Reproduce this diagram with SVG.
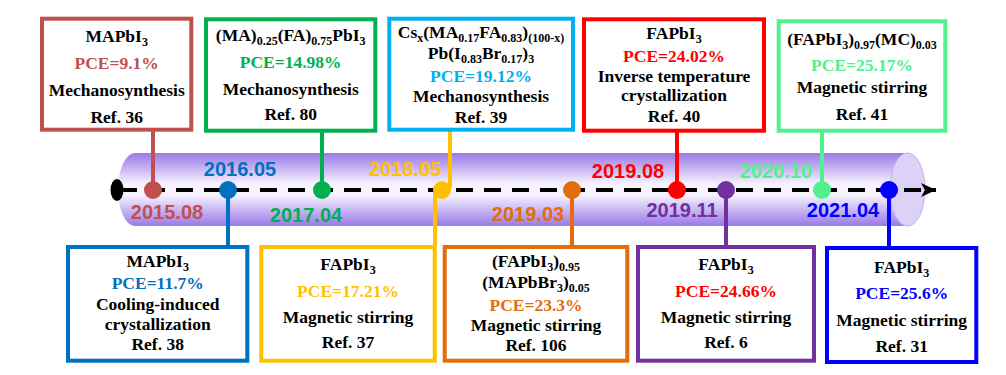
<svg xmlns="http://www.w3.org/2000/svg" width="1006" height="375" viewBox="0 0 1006 375">
<defs>
<linearGradient id="tubeGrad" x1="0" y1="0" x2="0" y2="1">
<stop offset="0" stop-color="#9b7ae9"/>
<stop offset="0.15" stop-color="#b9a2f0"/>
<stop offset="0.42" stop-color="#f6f2fe"/>
<stop offset="0.58" stop-color="#f6f2fe"/>
<stop offset="0.85" stop-color="#b9a2f0"/>
<stop offset="1" stop-color="#9b7ae9"/>
</linearGradient>
<marker id="arrow" markerUnits="userSpaceOnUse" markerWidth="20" markerHeight="20" refX="15" refY="7" orient="auto" viewBox="0 0 20 20">
<path d="M15,7 L0,0 L4,7 L0,14 Z" fill="#000"/>
</marker>
</defs>
<style>
.box{fill:#fff;stroke-width:4}
.t{font-family:"Liberation Serif","Times New Roman",serif;font-weight:bold;font-size:17.5px;text-anchor:middle}
.s{font-size:12px}
.date{font-family:"Liberation Sans",Arial,sans-serif;font-weight:bold;font-size:20px;text-anchor:middle}
.conn{stroke-width:4;fill:none}
</style>
<rect width="1006" height="375" fill="#fff"/>

<g id="timeline">
<path d="M135,153 H907.5 A17.5 36.5 0 0 1 907.5,226 H135 A17 36.5 0 0 1 135,153 Z" fill="url(#tubeGrad)"/>
<ellipse cx="907.5" cy="189.5" rx="17.5" ry="36.5" fill="#dcd2f7" stroke="#c4b3f0" stroke-width="1"/>
</g>

<g id="connectors">
<line class="conn" x1="153" y1="131" x2="153" y2="190" stroke="#c0504d"/>
<line class="conn" x1="228" y1="190" x2="228" y2="246" stroke="#0070c0"/>
<line class="conn" x1="322" y1="131" x2="322" y2="190" stroke="#00b050"/>
<line class="conn" x1="450" y1="131" x2="450" y2="188" stroke="#ffc000"/>
<line class="conn" x1="435" y1="190" x2="435" y2="246" stroke="#ffc000"/>
<line class="conn" x1="572" y1="190" x2="572" y2="246" stroke="#e46c0a"/>
<line class="conn" x1="677" y1="131" x2="677" y2="190" stroke="#ff0000"/>
<line class="conn" x1="726" y1="190" x2="726" y2="246" stroke="#7030a0"/>
<line class="conn" x1="822" y1="132" x2="822" y2="190" stroke="#50f08c"/>
<line class="conn" x1="889" y1="190" x2="889" y2="247" stroke="#0000ff"/>
</g>

<g id="axis">
<ellipse cx="117" cy="190" rx="6.5" ry="11" fill="#000"/>
<line x1="120" y1="190" x2="936" y2="190" stroke="#000" stroke-width="4" stroke-dasharray="17 11" marker-end="url(#arrow)"/>
</g>

<g id="dots">
<circle cx="153" cy="190" r="9" fill="#c0504d"/>
<circle cx="228" cy="190" r="9" fill="#0070c0"/>
<circle cx="322" cy="190" r="9" fill="#00b050"/>
<circle cx="442" cy="190" r="9" fill="#ffc000"/>
<circle cx="572" cy="190" r="9" fill="#e46c0a"/>
<circle cx="677" cy="190" r="9" fill="#ff0000"/>
<circle cx="726" cy="190" r="9" fill="#7030a0"/>
<circle cx="822" cy="190" r="9" fill="#50f08c"/>
<circle cx="889" cy="190" r="9" fill="#0000ff"/>
</g>

<g id="dates">
<text class="date" x="167" y="219" fill="#c0504d">2015.08</text>
<text class="date" x="240" y="175.5" fill="#0070c0">2016.05</text>
<text class="date" x="306" y="221.5" fill="#00b050">2017.04</text>
<text class="date" x="405" y="175.5" fill="#ffc000">2018.05</text>
<text class="date" x="528" y="221" fill="#e46c0a">2019.03</text>
<text class="date" x="628" y="178" fill="#ff0000">2019.08</text>
<text class="date" x="682" y="217" fill="#7030a0">2019.11</text>
<text class="date" x="776" y="178" fill="#50f08c">2020.10</text>
<text class="date" x="843" y="217" fill="#0000ff">2021.04</text>
</g>

<g id="node-2015-08">
<rect class="box" x="42" y="18.7" width="149.3" height="111" stroke="#c0504d"/>
<text class="t" x="116.7" y="42">MAPbI<tspan class="s" dy="4">3</tspan></text>
<text class="t" x="116.7" y="69" fill="#c0504d">PCE=9.1%</text>
<text class="t" x="116.7" y="96">Mechanosynthesis</text>
<text class="t" x="116.7" y="123">Ref. 36</text>
</g>

<g id="node-2017-04">
<rect class="box" x="206" y="19.3" width="169.3" height="111.4" stroke="#00b050"/>
<text class="t" x="290.7" y="41">(MA)<tspan class="s" dy="4">0.25</tspan><tspan dy="-4">(FA)</tspan><tspan class="s" dy="4">0.75</tspan><tspan dy="-4">PbI</tspan><tspan class="s" dy="4">3</tspan></text>
<text class="t" x="290.7" y="68" fill="#00b050">PCE=14.98%</text>
<text class="t" x="290.7" y="95">Mechanosynthesis</text>
<text class="t" x="290.7" y="120">Ref. 80</text>
</g>

<g id="node-2018-05-top">
<rect class="box" x="389.3" y="18.7" width="183.7" height="111" stroke="#00b0f0"/>
<text class="t" x="481" y="38">Cs<tspan class="s" dy="4">x</tspan><tspan dy="-4">(MA</tspan><tspan class="s" dy="4">0.17</tspan><tspan dy="-4">FA</tspan><tspan class="s" dy="4">0.83</tspan><tspan dy="-4">)</tspan><tspan class="s" dy="4">(100-x)</tspan></text>
<text class="t" x="481" y="58.5">Pb(I<tspan class="s" dy="4">0.83</tspan><tspan dy="-4">Br</tspan><tspan class="s" dy="4">0.17</tspan><tspan dy="-4">)</tspan><tspan class="s" dy="4">3</tspan></text>
<text class="t" x="481" y="81.5" fill="#00b0f0">PCE=19.12%</text>
<text class="t" x="481" y="101.5">Mechanosynthesis</text>
<text class="t" x="481" y="122.5">Ref. 39</text>
</g>

<g id="node-2019-08">
<rect class="box" x="584" y="19.3" width="180" height="111.4" stroke="#ff0000"/>
<text class="t" x="674" y="39">FAPbI<tspan class="s" dy="4">3</tspan></text>
<text class="t" x="674" y="61.5" fill="#ff0000">PCE=24.02%</text>
<text class="t" x="674" y="81.5">Inverse temperature</text>
<text class="t" x="674" y="101">crystallization</text>
<text class="t" x="674" y="121.5">Ref. 40</text>
</g>

<g id="node-2020-10">
<rect class="box" x="778.7" y="21.3" width="166.6" height="109.4" stroke="#50f08c"/>
<text class="t" x="862" y="45">(FAPbI<tspan class="s" dy="4">3</tspan><tspan dy="-4">)</tspan><tspan class="s" dy="4">0.97</tspan><tspan dy="-4">(MC)</tspan><tspan class="s" dy="4">0.03</tspan></text>
<text class="t" x="862" y="70.5" fill="#50f08c">PCE=25.17%</text>
<text class="t" x="862" y="93">Magnetic stirring</text>
<text class="t" x="862" y="120">Ref. 41</text>
</g>

<g id="node-2016-05">
<rect class="box" x="68" y="247" width="179.3" height="113.7" stroke="#0070c0"/>
<text class="t" x="157.7" y="266.7">MAPbI<tspan class="s" dy="4">3</tspan></text>
<text class="t" x="157.7" y="289.3" fill="#0070c0">PCE=11.7%</text>
<text class="t" x="157.7" y="310">Cooling-induced</text>
<text class="t" x="157.7" y="329.5">crystallization</text>
<text class="t" x="157.7" y="350">Ref. 38</text>
</g>

<g id="node-2018-05-bottom">
<rect class="box" x="261.3" y="247" width="173.4" height="113.7" stroke="#ffc000"/>
<text class="t" x="348" y="270">FAPbI<tspan class="s" dy="4">3</tspan></text>
<text class="t" x="348" y="296.5" fill="#ffc000">PCE=17.21%</text>
<text class="t" x="348" y="323">Magnetic stirring</text>
<text class="t" x="348" y="348.3">Ref. 37</text>
</g>

<g id="node-2019-03">
<rect class="box" x="444.7" y="247" width="182.6" height="113.7" stroke="#e46c0a"/>
<text class="t" x="536" y="266.7">(FAPbI<tspan class="s" dy="4">3</tspan><tspan dy="-4">)</tspan><tspan class="s" dy="4">0.95</tspan></text>
<text class="t" x="536" y="288.3">(MAPbBr<tspan class="s" dy="4">3</tspan><tspan dy="-4">)</tspan><tspan class="s" dy="4">0.05</tspan></text>
<text class="t" x="536" y="310.7" fill="#e46c0a">PCE=23.3%</text>
<text class="t" x="536" y="330.7">Magnetic stirring</text>
<text class="t" x="536" y="351">Ref. 106</text>
</g>

<g id="node-2019-11">
<rect class="box" x="638" y="247" width="176" height="113.7" stroke="#7030a0"/>
<text class="t" x="726" y="270">FAPbI<tspan class="s" dy="4">3</tspan></text>
<text class="t" x="726" y="296.5" fill="#ff0000">PCE=24.66%</text>
<text class="t" x="726" y="323">Magnetic stirring</text>
<text class="t" x="726" y="348.3">Ref. 6</text>
</g>

<g id="node-2021-04">
<rect class="box" x="827" y="248" width="149.3" height="114" stroke="#0000ff"/>
<text class="t" x="901.7" y="272.7">FAPbI<tspan class="s" dy="4">3</tspan></text>
<text class="t" x="901.7" y="299.3" fill="#0000ff">PCE=25.6%</text>
<text class="t" x="901.7" y="326">Magnetic stirring</text>
<text class="t" x="901.7" y="351.7">Ref. 31</text>
</g>
</svg>
